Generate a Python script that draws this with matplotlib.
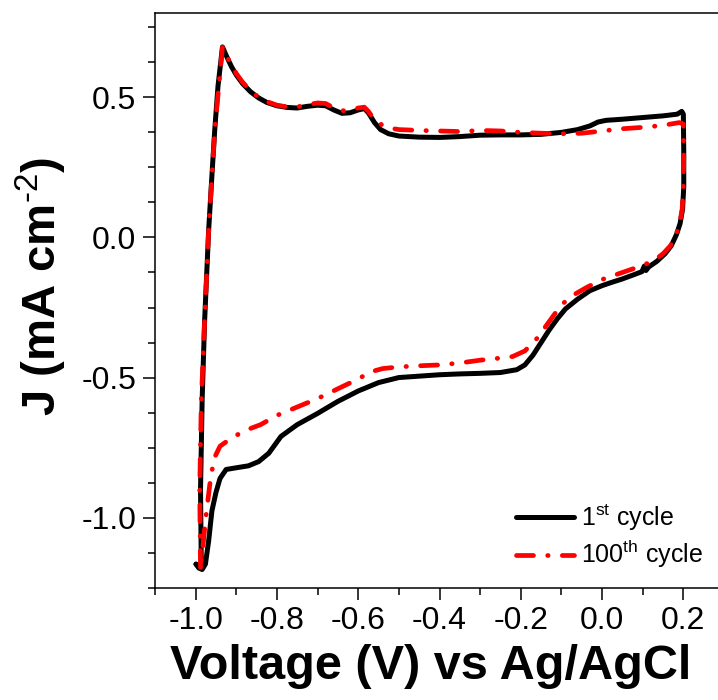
# Cyclic voltammogram, 1st vs 100th cycle

import matplotlib
matplotlib.use('Agg')
import matplotlib.pyplot as plt
from matplotlib.ticker import MultipleLocator

plt.rcParams['font.family'] = ['Liberation Sans', 'DejaVu Sans']
plt.rcParams['mathtext.fontset'] = 'custom'
plt.rcParams['mathtext.rm'] = 'Liberation Sans'
plt.rcParams['mathtext.bf'] = 'Liberation Sans:bold'

# --- DATA ---
# 1st cycle: closed loop, anodic branch then cathodic branch
v_1st = [-0.999, -0.986, -0.988, -0.984, -0.978, -0.968, -0.960, -0.953, -0.945, -0.934,
         -0.925, -0.912, -0.900, -0.885, -0.865, -0.845, -0.825, -0.800, -0.775, -0.750,
         -0.725, -0.700, -0.680, -0.660, -0.640, -0.620, -0.600, -0.585, -0.575, -0.560,
         -0.545, -0.525, -0.500, -0.450, -0.400, -0.350, -0.300, -0.250, -0.200, -0.150,
         -0.100, -0.060, -0.030, -0.010, 0.010, 0.050, 0.100, 0.150, 0.185, 0.196, 0.200,
         0.201, 0.201, 0.198, 0.192, 0.183, 0.170, 0.155, 0.135, 0.115, 0.108, 0.104, 0.098,
         0.080, 0.050, 0.020, 0.000, -0.030, -0.060, -0.090, -0.110, -0.130, -0.150, -0.170,
         -0.190, -0.210, -0.250, -0.300, -0.350, -0.400, -0.450, -0.500, -0.550, -0.600,
         -0.650, -0.700, -0.750, -0.790, -0.820, -0.845, -0.870, -0.900, -0.925, -0.940,
         -0.950, -0.960, -0.968, -0.976, -0.984, -0.992, -0.999]
j_1st = [-1.166, -1.182, -0.900, -0.580, -0.300, 0.026, 0.220, 0.384, 0.540, 0.680,
         0.650, 0.610, 0.580, 0.550, 0.520, 0.498, 0.482, 0.470, 0.464, 0.462,
         0.468, 0.472, 0.470, 0.455, 0.443, 0.445, 0.455, 0.460, 0.445, 0.410,
         0.385, 0.370, 0.362, 0.358, 0.357, 0.360, 0.365, 0.366, 0.366, 0.368,
         0.375, 0.385, 0.398, 0.412, 0.418, 0.422, 0.428, 0.434, 0.440, 0.450, 0.440,
         0.300, 0.180, 0.100, 0.050, 0.010, -0.030, -0.058, -0.085, -0.105, -0.118, -0.102, -0.122,
         -0.132, -0.148, -0.162, -0.172, -0.190, -0.220, -0.255, -0.290, -0.330, -0.375, -0.420,
         -0.455, -0.472, -0.482, -0.485, -0.487, -0.490, -0.495, -0.500, -0.518, -0.548,
         -0.585, -0.628, -0.668, -0.710, -0.770, -0.800, -0.815, -0.822, -0.828, -0.860,
         -0.910, -0.976, -1.083, -1.166, -1.185, -1.180, -1.166]

# 100th cycle
v_100th = [-0.988, -0.990, -0.986, -0.978, -0.968, -0.953, -0.934,
           -0.925, -0.912, -0.900, -0.885, -0.865, -0.845, -0.825, -0.800, -0.775, -0.750,
           -0.725, -0.700, -0.680, -0.660, -0.640, -0.620, -0.600, -0.585, -0.575, -0.560,
           -0.540, -0.520, -0.500, -0.450, -0.400, -0.350, -0.300, -0.250, -0.200, -0.150,
           -0.100, -0.050, 0.000, 0.050, 0.100, 0.150, 0.190, 0.200,
           0.201, 0.200, 0.197, 0.191, 0.182, 0.168, 0.150, 0.130, 0.100, 0.070, 0.040,
           0.000, -0.040, -0.070, -0.100, -0.130, -0.160, -0.190, -0.220, -0.260, -0.300,
           -0.350, -0.400, -0.450, -0.500, -0.540, -0.570, -0.600, -0.650, -0.700, -0.750,
           -0.800, -0.840, -0.880, -0.914, -0.940, -0.955, -0.965, -0.975, -0.982, -0.988]
j_100th = [-1.178, -0.900, -0.580, -0.300, 0.026, 0.384, 0.680,
           0.652, 0.615, 0.585, 0.555, 0.523, 0.500, 0.485, 0.472, 0.466, 0.466,
           0.474, 0.480, 0.478, 0.462, 0.452, 0.455, 0.462, 0.465, 0.450, 0.420,
           0.400, 0.390, 0.385, 0.382, 0.380, 0.378, 0.382, 0.380, 0.375, 0.372,
           0.370, 0.372, 0.380, 0.388, 0.393, 0.400, 0.410, 0.405,
           0.300, 0.180, 0.100, 0.050, 0.010, -0.030, -0.058, -0.080, -0.100, -0.115, -0.130,
           -0.150, -0.180, -0.205, -0.240, -0.300, -0.360, -0.405, -0.425, -0.432, -0.438,
           -0.448, -0.455, -0.458, -0.462, -0.468, -0.480, -0.505, -0.540, -0.575, -0.605,
           -0.635, -0.668, -0.690, -0.718, -0.745, -0.790, -0.880, -1.000, -1.100, -1.175]

x_ticks = [-1.0, -0.8, -0.6, -0.4, -0.2, 0.0, 0.2]
y_ticks = [-1.0, -0.5, 0.0, 0.5]


# --- FIGURE ---
fig = plt.figure(figsize=(7.18, 7.0), dpi=100)
ax = fig.add_axes([155/718, 1 - 587.7/700, (724 - 155)/718, (587.7 - 13.3)/700])

ax.plot(v_1st, j_1st, color='black', lw=3.6, solid_capstyle='round',
        solid_joinstyle='round', label='1$^{\\mathrm{st}}$ cycle')
ax.plot(v_100th, j_100th, color='#ff0000', lw=3.4, linestyle=(0, (3.6, 3.0, 0.1, 3.0)),
        dash_capstyle='round', label='100$^{\\mathrm{th}}$ cycle')

ax.set_xlim(-1.1, 0.3)
ax.set_ylim(-1.25, 0.8)
ax.set_xticks(x_ticks)
ax.set_yticks(y_ticks)
ax.set_xticklabels(['%.1f' % t for t in x_ticks])
ax.set_yticklabels(['%.1f' % t for t in y_ticks])
ax.xaxis.set_minor_locator(MultipleLocator(0.1))
ax.yaxis.set_minor_locator(MultipleLocator(0.125))

ax.tick_params(which='major', direction='out', length=8.5, width=1.1, labelsize=23, pad=5)
ax.tick_params(which='minor', direction='out', length=5, width=1.1)
ax.tick_params(top=False, right=False, which='both')
for s in ax.spines.values():
	s.set_linewidth(1.1)

ax.set_xlabel('Voltage (V) vs Ag/AgCl', fontsize=35, fontweight='bold')
ax.set_ylabel('J (mA cm$^{\\text{-2}}$)', fontsize=34, fontweight='bold', va='center')
ax.xaxis.set_label_coords(0.485, -0.098)
ax.yaxis.set_label_coords(-0.199, 0.524)

ax.legend(loc='lower left', bbox_to_anchor=(0.635, 0.03), frameon=False, fontsize=18,
          handlelength=2.3, handletextpad=0.3, labelspacing=0.22, borderpad=0, borderaxespad=0)

fig.savefig('out.png', dpi=100)
